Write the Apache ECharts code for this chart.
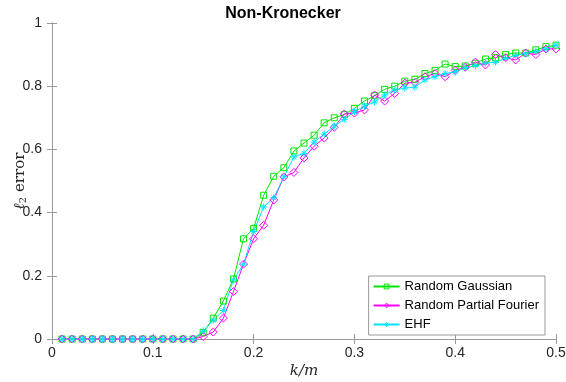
<!DOCTYPE html>
<html>
<head>
<meta charset="utf-8">
<script src="https://cdn.jsdelivr.net/npm/echarts@6/dist/echarts.min.js"></script>
<style>
  html, body { margin: 0; padding: 0; background: #fff; }
  #chart { width: 566px; height: 382px; }
</style>
</head>
<body>
<div id="chart"></div>
<script>
const kValues = [
  0.01, 0.02, 0.03, 0.04, 0.05, 0.06, 0.07, 0.08, 0.09, 0.10,
  0.11, 0.12, 0.13, 0.14, 0.15, 0.16, 0.17, 0.18, 0.19, 0.20,
  0.21, 0.22, 0.23, 0.24, 0.25, 0.26, 0.27, 0.28, 0.29, 0.30,
  0.31, 0.32, 0.33, 0.34, 0.35, 0.36, 0.37, 0.38, 0.39, 0.40,
  0.41, 0.42, 0.43, 0.44, 0.45, 0.46, 0.47, 0.48, 0.49, 0.50
]

const gaussian = [
  0, 0, 0, 0, 0, 0, 0, 0, 0, 0,
  0, 0, 0, 0, 0.02, 0.066, 0.12, 0.19, 0.317, 0.35,
  0.455, 0.515, 0.542, 0.595, 0.62, 0.645, 0.684, 0.70, 0.71, 0.73,
  0.753, 0.77, 0.79, 0.80, 0.816, 0.822, 0.84, 0.85, 0.87, 0.862,
  0.864, 0.873, 0.886, 0.89, 0.90, 0.905, 0.905, 0.915, 0.925, 0.93
]

const partialFourier = [
  0, 0, 0, 0, 0, 0, 0, 0, 0, 0,
  0, 0, 0, 0, 0.008, 0.022, 0.066, 0.15, 0.237, 0.317,
  0.36, 0.44, 0.513, 0.527, 0.573, 0.61, 0.636, 0.67, 0.712, 0.715,
  0.725, 0.772, 0.753, 0.777, 0.81, 0.812, 0.83, 0.84, 0.83, 0.85,
  0.86, 0.876, 0.867, 0.90, 0.89, 0.883, 0.905, 0.90, 0.918, 0.918
]

const ehf = [
  0, 0, 0, 0, 0, 0, 0, 0, 0, 0,
  0, 0, 0, 0, 0.025, 0.06, 0.09, 0.187, 0.237, 0.34,
  0.418, 0.447, 0.513, 0.576, 0.588, 0.623, 0.648, 0.674, 0.695, 0.72,
  0.737, 0.75, 0.772, 0.788, 0.794, 0.797, 0.82, 0.83, 0.84, 0.845,
  0.858, 0.865, 0.873, 0.876, 0.888, 0.898, 0.903, 0.91, 0.918, 0.93
]

const seriesNames = ['Random Gaussian', 'Random Partial Fourier', 'EHF']
const seriesColors = ['#00e600', '#ff00ff', '#00e5ff']

const axisColor = '#999999'
const textColor = '#262626'
const asterisk = 'path://M0,-10L0,10M-10,0L10,0M-7,-7L7,7M-7,7L7,-7'

const pairs = (vals) => vals.map((v, i) => [kValues[i], v])

const chart = echarts.init(document.getElementById('chart'))

const lineSeries = (name, vals, color, symbol, size) => ({
  name,
  type: 'line',
  data: pairs(vals),
  symbol,
  symbolSize: size,
  showAllSymbol: true,
  lineStyle: { color, width: 1 },
  itemStyle: { color: 'rgba(0,0,0,0)', borderColor: color, borderWidth: 1 },
  emphasis: { disabled: true },
  animation: false,
})

chart.setOption({
  animation: false,
  title: {
    text: 'Non-Kronecker',
    left: 'center',
    top: 1,
    textStyle: { fontFamily: 'Liberation Sans', fontSize: 16, fontWeight: 'bold', color: '#000' },
  },
  grid: { left: 52, right: 10, top: 23, bottom: 43, outerBoundsMode: 'none' },
  legend: {
    orient: 'vertical',
    right: 21,
    bottom: 47,
    itemWidth: 26,
    itemHeight: 6,
    itemGap: 6,
    padding: [4, 6, 4, 4],
    borderColor: '#999',
    borderWidth: 1,
    backgroundColor: '#fff',
    textStyle: { fontFamily: 'Liberation Sans', fontSize: 13, color: '#000' },
    data: seriesNames.map((name, i) => ({
      name,
      itemStyle: { color: 'rgba(0,0,0,0)', borderColor: seriesColors[i], borderWidth: 1 },
    })),
  },
  xAxis: [
    {
      type: 'value',
      min: 0,
      max: 0.5,
      interval: 0.1,
      name: 'k/m',
      nameLocation: 'middle',
      nameGap: 25,
      nameMoveOverlap: false,
      nameTextStyle: { fontFamily: 'DejaVu Serif', fontStyle: 'italic', fontSize: 15, color: textColor },
      axisLine: { show: true, lineStyle: { color: axisColor } },
      axisTick: { inside: true, length: 5, lineStyle: { color: axisColor } },
      axisLabel: { fontFamily: 'Liberation Sans', fontSize: 14, color: textColor, margin: 7,
        formatter: (v) => (v === 0 ? '0' : String(Math.round(v * 10) / 10)) },
      splitLine: { show: false },
    },
    {
      type: 'value',
      position: 'top',
      min: 0,
      max: 0.5,
      interval: 0.1,
      axisLine: { show: true, lineStyle: { color: axisColor } },
      axisTick: { inside: true, length: 5, lineStyle: { color: axisColor } },
      axisLabel: { show: false },
      splitLine: { show: false },
    },
  ],
  yAxis: [
    {
      type: 'value',
      min: 0,
      max: 1,
      interval: 0.2,
      name: '{l|ℓ}{s|2}{e| error}',
      nameLocation: 'middle',
      nameGap: 24,
      nameMoveOverlap: false,
      nameRotate: 90,
      nameTextStyle: {
        color: textColor,
        rich: {
          l: { fontFamily: 'DejaVu Serif', fontStyle: 'italic', fontSize: 15, color: textColor },
          s: { fontFamily: 'DejaVu Serif', fontSize: 10, color: textColor, padding: [6, 0, 0, 0] },
          e: { fontFamily: 'DejaVu Serif', fontSize: 15, color: textColor },
        },
      },
      axisLine: { show: true, lineStyle: { color: axisColor } },
      axisTick: { inside: true, length: 5, lineStyle: { color: axisColor } },
      axisLabel: { fontFamily: 'Liberation Sans', fontSize: 14, color: textColor, margin: 10,
        formatter: (v) => (v === 0 ? '0' : v === 1 ? '1' : v.toFixed(1)) },
      splitLine: { show: false },
    },
    {
      type: 'value',
      position: 'right',
      min: 0,
      max: 1,
      interval: 0.2,
      axisLine: { show: true, lineStyle: { color: axisColor } },
      axisTick: { inside: true, length: 5, lineStyle: { color: axisColor } },
      axisLabel: { show: false },
      splitLine: { show: false },
    },
  ],
  series: [
    lineSeries(seriesNames[0], gaussian, seriesColors[0], 'rect', 6),
    lineSeries(seriesNames[1], partialFourier, seriesColors[1], 'diamond', 8),
    lineSeries(seriesNames[2], ehf, seriesColors[2], asterisk, 7),
  ],
})
</script>
</body>
</html>
